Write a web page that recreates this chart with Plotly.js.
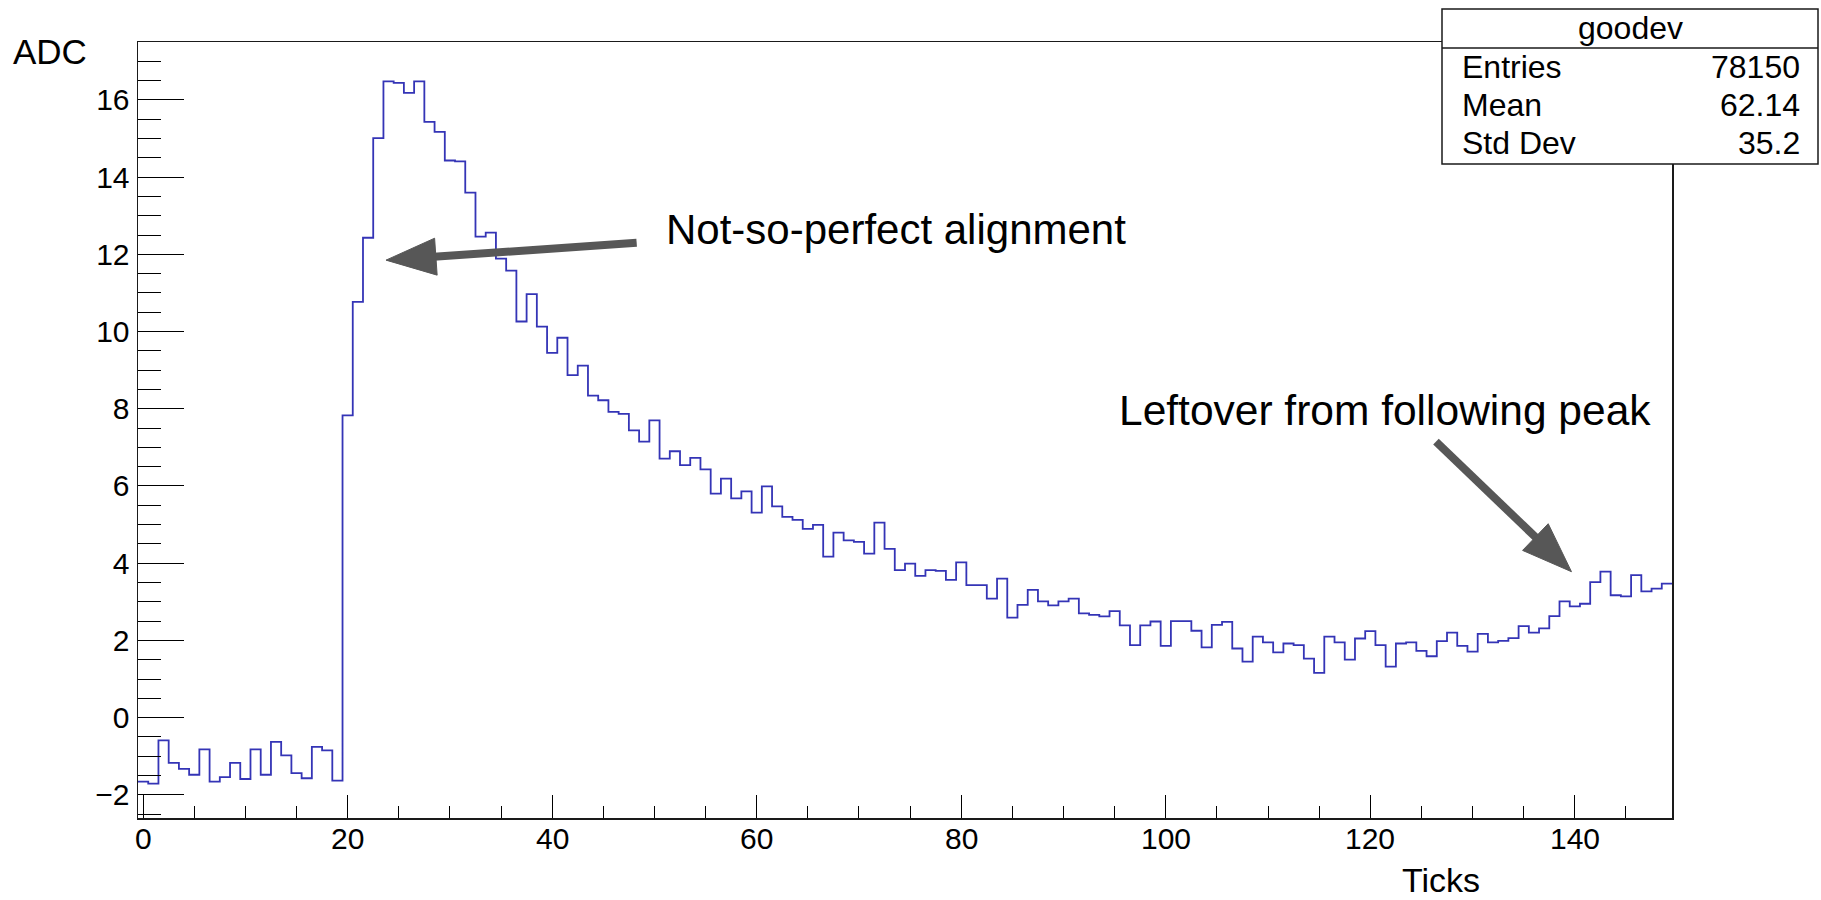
<!DOCTYPE html>
<html>
<head>
<meta charset="utf-8">
<script src="https://cdn.plot.ly/plotly-3.0.1.min.js"></script>
<style>
  html, body { margin: 0; padding: 0; background: #ffffff; }
  #chart { width: 1821px; height: 900px; }
</style>
</head>
<body>
<div id="chart"></div>
<script>
const histName = "goodev";
const xTitle = "Ticks";
const yTitle = "ADC";
const adcValues = [
  -1.66, -1.71, -0.59, -1.17, -1.33, -1.48, -0.82, -1.66, -1.54, -1.17,
  -1.59, -0.82, -1.48, -0.63, -0.98, -1.44, -1.57, -0.76, -0.85, -1.63,
   7.83, 10.77, 12.43, 15.01, 16.48, 16.44, 16.18, 16.48, 15.43, 15.17,
  14.43, 14.41, 13.60, 12.46, 12.56, 11.89, 11.58, 10.26, 10.97, 10.13,
   9.45,  9.84,  8.87,  9.12,  8.34,  8.22,  7.92,  7.87,  7.44,  7.15,
   7.70,  6.71,  6.90,  6.54,  6.73,  6.43,  5.80,  6.19,  5.68,  5.86,
   5.31,  5.99,  5.47,  5.20,  5.12,  4.89,  4.99,  4.17,  4.79,  4.59,
   4.55,  4.25,  5.05,  4.37,  3.82,  3.99,  3.67,  3.82,  3.80,  3.57,
   4.02,  3.43,  3.43,  3.08,  3.60,  2.59,  2.92,  3.31,  3.01,  2.91,
   3.01,  3.08,  2.70,  2.66,  2.62,  2.76,  2.39,  1.88,  2.39,  2.49,
   1.86,  2.50,  2.50,  2.25,  1.82,  2.40,  2.48,  1.79,  1.45,  2.10,
   1.95,  1.69,  1.92,  1.88,  1.53,  1.16,  2.10,  1.95,  1.50,  2.05,
   2.24,  1.88,  1.32,  1.92,  1.95,  1.73,  1.59,  1.98,  2.20,  1.86,
   1.71,  2.17,  1.95,  1.99,  2.06,  2.37,  2.20,  2.31,  2.63,  3.01,
   2.88,  2.95,  3.51,  3.78,  3.17,  3.14,  3.69,  3.27,  3.34,  3.47
];
const xTickLabels = [0, 20, 40, 60, 80, 100, 120, 140];
const statLabels = ["Entries", "Mean", "Std Dev"];
const statValues = ["78150", "62.14", "35.2"];
const noteTexts = ["Not-so-perfect alignment", "Leftover from following peak"];

// ---- Geometry ----
const W = 1821, H = 900;
const M = { l: 138, r: 149, t: 42, b: 82 };
const PW = W - M.l - M.r, PH = H - M.t - M.b;
const XR = [-0.5, 149.5], YR = [-2.6, 17.5];
const FONT = "Liberation Sans, Arial, Helvetica, sans-serif";

// histogram bin edges (unit-width bins centred on tick numbers)
const binNumbers = adcValues.map((_, i) => i);
const stepX = binNumbers.map(i => i - 0.5).concat([binNumbers.length - 0.5]);
const stepY = adcValues.concat([adcValues[adcValues.length - 1]]);

const px2paperX = px => (px - M.l) / PW;
const py2paperY = py => (H - M.b - py) / PH;
const d2px = x => M.l + (x - XR[0]) / (XR[1] - XR[0]) * PW;
const d2py = y => H - M.b - (y - YR[0]) / (YR[1] - YR[0]) * PH;

// arrows defined in data coordinates (tail -> tip)
const arrows = [
  { tail: [48.26, 12.30], tip: [23.75, 11.85] },
  { tail: [126.42, 7.15], tip: [139.67, 3.78] }
];
const ARROW_COLOR = "#575757";
const shapes = [];
arrows.forEach(a => {
  const tx = d2px(a.tail[0]), ty = d2py(a.tail[1]);
  const hx = d2px(a.tip[0]), hy = d2py(a.tip[1]);
  const dx = hx - tx, dy = hy - ty, len = Math.hypot(dx, dy);
  const ux = dx / len, uy = dy / len;
  const headLen = 50, headHalf = 18.5;
  const bx = hx - ux * headLen, by = hy - uy * headLen;
  const nx = -uy, ny = ux;
  shapes.push({
    type: "line", xref: "paper", yref: "paper", layer: "above",
    x0: px2paperX(tx), y0: py2paperY(ty),
    x1: px2paperX(bx + ux * 2), y1: py2paperY(by + uy * 2),
    line: { color: ARROW_COLOR, width: 8 }
  });
  const pts = [[hx, hy], [bx + nx * headHalf, by + ny * headHalf], [bx - nx * headHalf, by - ny * headHalf]];
  const path = "M " + pts.map(p => px2paperX(p[0]) + "," + py2paperY(p[1])).join(" L ") + " Z";
  shapes.push({
    type: "path", xref: "paper", yref: "paper", layer: "above", path: path,
    fillcolor: ARROW_COLOR, line: { color: ARROW_COLOR, width: 1 }
  });
});

// stats box
const box = { x0: 1442, x1: 1818, y0: 9, y1: 164, sep: 48 };
shapes.push({
  type: "rect", xref: "paper", yref: "paper", layer: "above",
  x0: px2paperX(box.x0), x1: px2paperX(box.x1), y0: py2paperY(box.y1), y1: py2paperY(box.y0),
  fillcolor: "#ffffff", line: { color: "#1a1a1a", width: 1.5 }
});
shapes.push({
  type: "line", xref: "paper", yref: "paper", layer: "above",
  x0: px2paperX(box.x0), x1: px2paperX(box.x1), y0: py2paperY(box.sep), y1: py2paperY(box.sep),
  line: { color: "#1a1a1a", width: 1.5 }
});

const annotations = [];
const txt = (text, px, py, xanchor, size) => ({
  text: text, xref: "paper", yref: "paper", x: px2paperX(px), y: py2paperY(py),
  xanchor: xanchor, yanchor: "middle", showarrow: false,
  font: { family: FONT, size: size, color: "#000" }
});
annotations.push(txt(histName, (box.x0 + box.x1) / 2, 28, "center", 32));
const rowY = [67, 105, 143];
statLabels.forEach((s, i) => {
  annotations.push(txt(s, 1460, rowY[i], "left", 32));
  annotations.push(txt(statValues[i], 1802, rowY[i], "right", 32));
});
annotations.push(txt(noteTexts[0], 664, 229, "left", 42));
annotations.push(txt(noteTexts[1], 1117, 410, "left", 42.5));
annotations.push(txt(yTitle, 89, 52, "right", 35));
annotations.push(txt(xTitle, 1482, 880, "right", 34));
// x tick labels placed at their data positions
xTickLabels.forEach(v => {
  annotations.push({
    text: String(v), xref: "x", yref: "paper", x: v, y: py2paperY(839),
    xanchor: "center", yanchor: "middle", showarrow: false,
    font: { family: FONT, size: 30, color: "#000" }
  });
});

const trace = {
  type: "scatter", mode: "lines",
  x: stepX, y: stepY,
  line: { shape: "hv", color: "#3434b6", width: 1.8 },
  hoverinfo: "skip", showlegend: false
};

const axisCommon = {
  showgrid: false, zeroline: false,
  showline: true, mirror: true, linecolor: "#1a1a1a", linewidth: 1.5,
  ticks: "inside", tickcolor: "#000", tickwidth: 1,
  tickfont: { family: FONT, size: 30, color: "#000" }
};

const layout = {
  width: W, height: H,
  margin: M,
  paper_bgcolor: "#ffffff", plot_bgcolor: "#ffffff",
  showlegend: false,
  xaxis: Object.assign({}, axisCommon, {
    range: XR, tick0: 0, dtick: 20, ticklen: 23, showticklabels: false,
    minor: { dtick: 5, tick0: 0, ticklen: 12, ticks: "inside", tickcolor: "#000", tickwidth: 1, showgrid: false }
  }),
  yaxis: Object.assign({}, axisCommon, {
    range: YR, tick0: 0, dtick: 2, ticklen: 46,
    minor: { dtick: 0.5, tick0: 0, ticklen: 23, ticks: "inside", tickcolor: "#000", tickwidth: 1, showgrid: false },
    ticklabelstandoff: 1
  }),
  shapes: shapes,
  annotations: annotations
};

Plotly.newPlot("chart", [trace], layout, { staticPlot: true, displayModeBar: false });
</script>
</body>
</html>
